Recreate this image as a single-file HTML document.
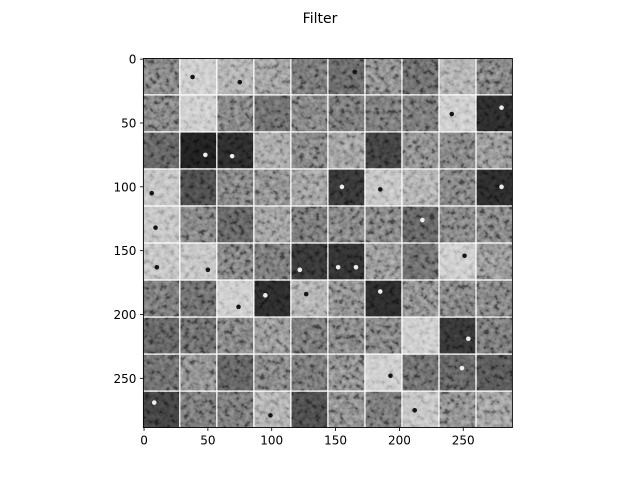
<!DOCTYPE html>
<html><head><meta charset="utf-8"><style>
body{margin:0;background:#fff}
svg{display:block;font-family:"DejaVu Sans","Liberation Sans",sans-serif}
</style></head><body>
<svg id="chart" width="640" height="480">
<rect width="640" height="480" fill="#fff"/>
<text x="320" y="23" text-anchor="middle" font-size="14">Filter</text>
<defs><filter id="tex" x="0" y="0" width="1" height="1"><feTurbulence type="fractalNoise" baseFrequency="0.2" numOctaves="2" seed="7"/><feColorMatrix type="matrix" values="1.8 0 0 0 -0.5 1.8 0 0 0 -0.5 1.8 0 0 0 -0.5 0 0 0 0 1"/></filter></defs>
<g id="tiles"></g>
<g id="axes"></g>
</svg>
<script>
const tileGray = [
120,200,170,150,110,95,130,100,170,120,
120,200,120,100,120,110,110,110,200,40,
90,30,40,160,120,150,60,130,120,140,
190,70,120,130,150,50,190,170,120,40,
190,120,90,150,110,120,120,90,120,120,
190,190,120,110,50,45,140,100,200,140,
110,100,200,40,170,130,40,130,120,120,
90,100,120,140,110,120,120,200,50,110,
100,130,90,120,110,130,200,100,90,80,
60,110,110,170,70,130,110,190,130,150];
const spotTile = [1,2,5,18,19,21,22,30,35,36,39,40,47,50,51,54,55,55,58,62,63,64,66,78,86,88,90,93,97];
const spotX = [9,17,20,9,19,19,11,6,10,11,19,9,15,10,21,6,7,21,19,16,8,11,11,22,19,17,8,12,9];
const spotY = [14,18,10,14,9,17,18,18,13,15,13,16,10,18,20,20,18,18,9,20,11,10,8,16,16,10,8,18,14];
const spotLight = [0,0,0,0,1,1,1,0,1,0,1,0,1,0,0,1,1,1,0,0,1,0,1,1,0,1,1,0,0];
const xTicks = [0,50,100,150,200,250];
const yTicks = [0,50,100,150,200,250];
const NS="http://www.w3.org/2000/svg";
const x0=143.4, y0=58.5, k=369/289;
const sx=v=>x0+(v+0.5)*k, sy=v=>y0+(v+0.5)*k;
const tiles=document.getElementById('tiles'), axes=document.getElementById('axes');
function mk(t,a,p){const e=document.createElementNS(NS,t);for(const n in a)e.setAttribute(n,a[n]);p.appendChild(e);return e;}
tileGray.forEach((g,i)=>{const r=Math.floor(i/10),c=i%10;
 const e=mk('rect',{x:sx(c*29-0.5),y:sy(r*29-0.5),width:28*k,height:28*k,fill:`rgb(${g},${g},${g})`},tiles);
 
 
 const t=mk('rect',{x:sx(c*29-0.5),y:sy(r*29-0.5),width:28*k,height:28*k,filter:'url(#tex)',opacity:0.4,style:'mix-blend-mode:overlay'},tiles);
 
 
});
spotTile.forEach((ti,i)=>{const r=Math.floor(ti/10),c=ti%10;
 const e=mk('circle',{cx:sx(c*29+spotX[i]),cy:sy(r*29+spotY[i]),r:2.3,fill:spotLight[i]?'#eee':'#151515'},tiles);
 
 
});
const fr=mk('rect',{x:x0,y:y0,width:369,height:369,fill:'none',stroke:'#000','stroke-width':0.9},axes);


xTicks.forEach(v=>{const x=sx(v);
 const l=mk('line',{x1:x,x2:x,y1:y0+369,y2:y0+369+3.5,stroke:'#000','stroke-width':0.8},axes);
 
 
 const t=mk('text',{x:x,y:y0+369+17,'text-anchor':'middle','font-size':12},axes);t.textContent=v;
 
 
});
yTicks.forEach(v=>{const y=sy(v);
 const l=mk('line',{x1:x0-3.5,x2:x0,y1:y,y2:y,stroke:'#000','stroke-width':0.8},axes);
 
 
 const t=mk('text',{x:x0-7,y:y+4.5,'text-anchor':'end','font-size':12},axes);t.textContent=v;
 
 
});
</script>
</body></html>
